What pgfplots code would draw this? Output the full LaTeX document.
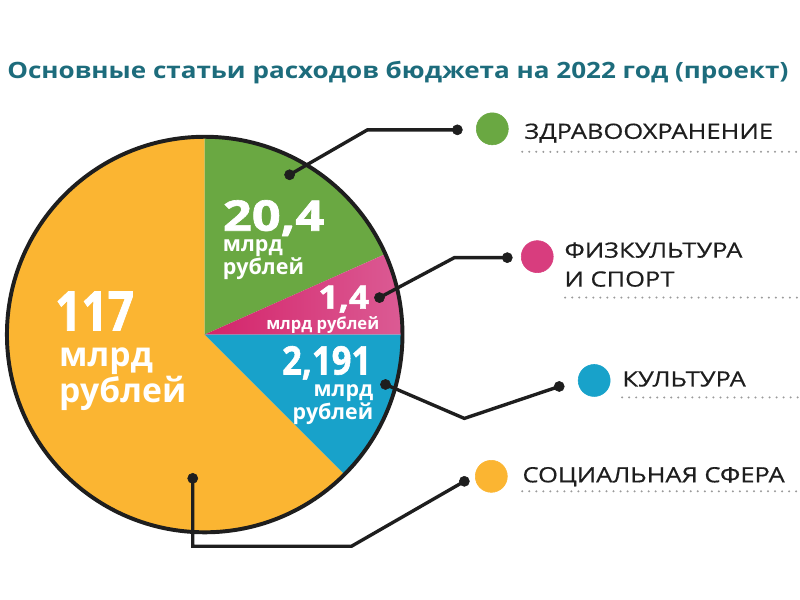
\documentclass[border=0pt]{standalone}
\usepackage{pgfplots}
\pgfplotsset{compat=1.18}
\usepackage{graphicx}
\usepackage{fontspec}
\setmainfont{Open Sans}
\newfontfamily\titlefont[FakeStretch=1.16]{Open Sans}
\newfontfamily\legendfont[FakeStretch=1.21, FakeBold=0.6]{Open Sans}
\newfontfamily\numfont[BoldFeatures={FakeBold=1.5}]{Open Sans}

\definecolor{zdrav}{HTML}{6AA842}
\definecolor{sport}{HTML}{D4246A}
\definecolor{sportlight}{HTML}{DB5B94}
\definecolor{sportmid}{HTML}{D83D7E}
\definecolor{kult}{HTML}{18A2CA}
\definecolor{soc}{HTML}{FBB532}
\definecolor{titlec}{HTML}{1D6C7C}
\definecolor{txt}{HTML}{1E1E1E}
\definecolor{dots}{HTML}{9A9A9A}

% pie geometry, in pixel units of the 800x600 picture (y grows downwards)
\def\cx{205}
\def\cy{335}
\def\rad{4.95cm} % 198 px

\newcommand{\fs}[1]{\fontsize{#1}{#1}\selectfont}

\begin{document}
\begin{tikzpicture}[every node/.style={inner sep=0pt}]
\begin{axis}[
    x=0.025cm, y=0.025cm,
    xmin=0, xmax=800, ymin=0, ymax=600,
    y dir=reverse,
    hide axis,
    clip=false,
]
\path (axis cs:0,0) rectangle (axis cs:800,600);

% slices: angles (it is not drawn to scale)
% social 90..315, health 24..90, sport 0..24, culture -45..0
\fill[soc] (axis cs:\cx,\cy) -- ++(90:\rad) arc[start angle=90, end angle=315, radius=\rad] -- cycle;
\fill[zdrav] (axis cs:\cx,\cy) -- ++(24:\rad) arc[start angle=24, end angle=90, radius=\rad] -- cycle;
\shade[left color=sport, right color=sportlight] (axis cs:\cx,\cy) -- ++(0:\rad) arc[start angle=0, end angle=24, radius=\rad] -- cycle;
\fill[kult] (axis cs:\cx,\cy) -- ++(-45:\rad) arc[start angle=-45, end angle=0, radius=\rad] -- cycle;
\draw[txt, line width=2.8pt] (axis cs:\cx,\cy) circle[radius=\rad];

% leader lines
\addplot[txt, line width=2.4pt, mark=none] coordinates {(290,175) (368,130) (458,130)};
\addplot[txt, line width=2.4pt, mark=none] coordinates {(380,298) (455,258) (508,258)};
\addplot[txt, line width=2.4pt, mark=none] coordinates {(386,385) (465,419) (560,387)};
\addplot[txt, line width=2.4pt, mark=none] coordinates {(193,479) (193,547) (352,547) (465,482)};
\addplot[only marks, mark=*, mark size=3.6pt, txt] coordinates {
    (290,175) (458,130) (380,298) (508,258) (386,385) (560,387) (193,479) (465,482)};

% legend dots
\addplot[only marks, mark=*, mark size=11.4pt, zdrav] coordinates {(493,129)};
\addplot[only marks, mark=*, mark size=11.4pt, sportmid] coordinates {(538,257)};
\addplot[only marks, mark=*, mark size=11.4pt, kult] coordinates {(595,381)};
\addplot[only marks, mark=*, mark size=11.4pt, soc] coordinates {(492,477)};

% dotted rules under legend entries
\addplot[dots, line width=1.6pt, dash pattern=on 0pt off 5pt, line cap=round] coordinates {(523,152) (800,152)};
\addplot[dots, line width=1.6pt, dash pattern=on 0pt off 5pt, line cap=round] coordinates {(566,298) (800,298)};
\addplot[dots, line width=1.6pt, dash pattern=on 0pt off 5pt, line cap=round] coordinates {(623,398) (800,398)};
\addplot[dots, line width=1.6pt, dash pattern=on 0pt off 5pt, line cap=round] coordinates {(523,492) (800,492)};

% legend text
\node[anchor=base west, text=txt, font=\legendfont\fs{15}] at (axis cs:525,139) {ЗДРАВООХРАНЕНИЕ};
\node[anchor=base west, text=txt, font=\legendfont\fs{15}] at (axis cs:565,258) {ФИЗКУЛЬТУРА};
\node[anchor=base west, text=txt, font=\legendfont\fs{15}] at (axis cs:565,287) {И СПОРТ};
\node[anchor=base west, text=txt, font=\legendfont\fs{15}] at (axis cs:623,387) {КУЛЬТУРА};
\node[anchor=base west, text=txt, font=\legendfont\fs{15}] at (axis cs:523,483) {СОЦИАЛЬНАЯ СФЕРА};

% title
\node[anchor=base west, text=titlec, font=\titlefont\bfseries\fs{16}] at (axis cs:7,79)
    {Основные статьи расходов бюджета на 2022 год (проект)};

% values in the slices (anchors of two-line labels sit on the last line)
\node[anchor=base west, text=white, font=\numfont\bfseries\fs{39}] at (axis cs:55,331) {\scalebox{0.84}[1]{117}};
\node[anchor=base west, align=left, text=white, font=\bfseries\fontsize{24}{23.5}\selectfont]
    at (axis cs:59,403) {млрд\\рублей};

\node[anchor=base west, text=white, font=\numfont\bfseries\fs{30}] at (axis cs:223,231) {\scalebox{1.2}[1]{20,4}};
\node[anchor=base west, align=left, text=white, font=\bfseries\fontsize{15.3}{14.2}\selectfont]
    at (axis cs:223,275) {млрд\\рублей};

\node[anchor=base east, text=white, font=\numfont\bfseries\fs{23}] at (axis cs:370,309) {\scalebox{1.1}[1]{1,4}};
\node[anchor=base east, text=white, font=\bfseries\fs{11.8}] at (axis cs:380,330) {млрд рублей};

\node[anchor=base east, text=white, font=\numfont\bfseries\fs{28}] at (axis cs:372,375) {\scalebox{0.88}[1]{2,191}};
\node[anchor=base east, align=right, text=white, font=\bfseries\fontsize{15.2}{12.8}\selectfont]
    at (axis cs:374,420) {млрд\\рублей};
\end{axis}
\end{tikzpicture}
\end{document}
